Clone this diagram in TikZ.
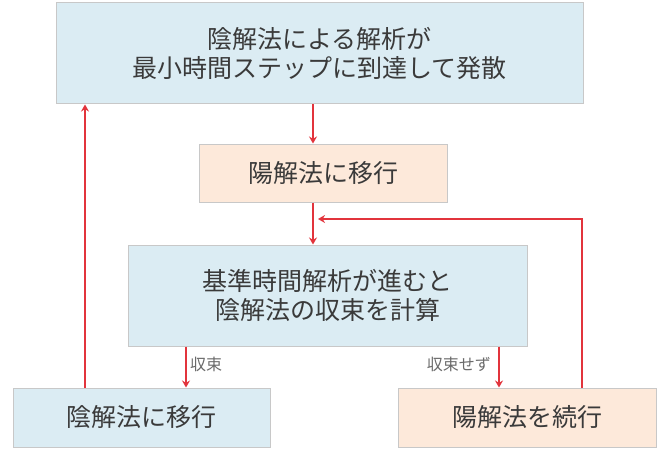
\documentclass[tikz,border=0pt]{standalone}
\usepackage{fontspec}
\newfontfamily\jp{Noto Sans CJK JP}
\usetikzlibrary{arrows.meta}
\definecolor{boxblue}{HTML}{DBECF3}
\definecolor{boxorange}{HTML}{FDE9DA}
\definecolor{boxline}{HTML}{C8C8C8}
\definecolor{arrred}{HTML}{E2343C}
\definecolor{txtgray}{HTML}{3A3A3A}
\definecolor{lblgray}{HTML}{6A6A6A}

\begin{document}
\begin{tikzpicture}[x=1pt, y=-1pt,
    every node/.style={font=\jp\fontsize{25}{29}\selectfont, text=txtgray, align=center},
    bluebox/.style={draw=boxline, line width=1pt, fill=boxblue, inner sep=0pt},
    orangebox/.style={draw=boxline, line width=1pt, fill=boxorange, inner sep=0pt},
    arr/.style={draw=arrred, line width=1.6pt, -{Stealth[length=7pt, width=8pt]}},
    lbl/.style={font=\jp\fontsize{16}{18}\selectfont, text=lblgray, yshift=3pt}]
    \useasboundingbox (0,0) rectangle (662,452);

    \node[bluebox, minimum width=527, minimum height=101] (diverge) at (319.5,53.5) {陰解法による解析が\\最小時間ステップに到達して発散};
    \node[orangebox, minimum width=248, minimum height=58] (toexp) at (323,173) {陽解法に移行};
    \node[bluebox, minimum width=399, minimum height=101] (check) at (327.5,295.5) {基準時間解析が進むと\\陰解法の収束を計算};
    \node[bluebox, minimum width=257, minimum height=59] (toimp) at (141.5,417.5) {陰解法に移行};
    \node[orangebox, minimum width=258, minimum height=59] (keepexp) at (527,417.5) {陽解法を続行};
    \coordinate (merge) at (318,219);

    \draw[arr] (diverge.south -| 313,0) -- (toexp.north -| 313,0);
    \draw[arr] (toexp.south -| 313,0) -- (check.north -| 313,0);
    \draw[arr] (check.south -| 186,0) -- (toimp.north -| 186,0) node[midway, right, lbl] {収束};
    \draw[arr] (check.south -| 499,0) -- (keepexp.north -| 499,0) node[midway, left, lbl, xshift=-4pt] {収束せず};
    \draw[arr] (toimp.north -| 85,0) -- (diverge.south -| 85,0);
    \draw[arr] (keepexp.north -| 582,0) |- (merge);
\end{tikzpicture}
\end{document}
